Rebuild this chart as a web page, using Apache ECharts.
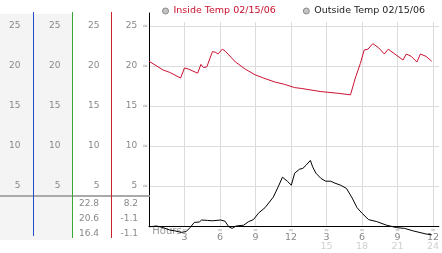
<!DOCTYPE html>
<html><head><meta charset="utf-8">
<script src="https://cdn.jsdelivr.net/npm/echarts@6/dist/echarts.min.js"></script>
<style>html,body{margin:0;padding:0;background:#fff}#c{width:442px;height:253px}</style>
</head><body><div id="c"></div>
<script>
const insideName = 'Inside Temp 02/15/06';
const outsideName = 'Outside Temp 02/15/06';
const insideHours = [0,1.19,1.75,2.67,3.0,3.36,4.11,4.39,4.61,4.89,5.36,5.64,5.83,6.19,6.42,7.31,8.14,8.97,9.67,10.64,11.47,12.31,12.86,14.53,15.92,17.03,17.44,17.86,18.19,18.5,18.92,19.39,19.89,20.22,20.78,21.47,21.75,22.17,22.64,22.94,23.42,23.89];
const insideTemps = [20.6,19.5,19.2,18.5,19.75,19.6,19.1,20.2,19.8,19.9,21.8,21.7,21.5,22.1,21.9,20.5,19.6,18.9,18.5,18.0,17.7,17.3,17.2,16.8,16.6,16.4,18.5,20.3,22.0,22.1,22.8,22.3,21.5,22.1,21.5,20.75,21.5,21.2,20.5,21.5,21.2,20.6];
const outsideHours = [0,0.64,1.19,1.75,2.17,2.72,3.14,3.47,3.83,4.25,4.44,4.94,5.36,6.06,6.42,6.75,7.03,7.36,8.0,8.42,8.83,9.25,9.81,10.5,10.92,11.28,11.69,12.03,12.31,12.72,13.0,13.28,13.64,13.83,14.11,14.53,14.94,15.36,15.64,16.19,16.69,17.17,17.58,18.0,18.56,19.25,20.08,20.92,21.6,22.3,23.42,23.9];
const outsideTemps = [-0.1,0,-0.2,-0.5,-0.6,-0.8,-0.7,-0.2,0.45,0.5,0.75,0.7,0.65,0.75,0.6,-0.1,-0.3,0,0.1,0.55,0.8,1.6,2.3,3.6,4.9,6.1,5.6,5.1,6.6,7.1,7.2,7.6,8.2,7.4,6.6,5.95,5.6,5.6,5.4,5.1,4.7,3.5,2.3,1.6,0.8,0.55,0.1,-0.2,-0.3,-0.6,-1.0,-1.1];
const hourTicks = [3,6,9,12,15,18,21,24];
const clockLabels = ['3','6','9','12','3','6','9','12'];
const dayHourLabels = ['','','','','15','18','21','24'];
const axisTitle = 'Hours';
const yTickValues = [5,10,15,20,25];
const yTickLabels = ['5','10','15','20','25'];

const FONT = 'DejaVu Sans';
function pairs(xs, ys){ return xs.map((x,i)=>[x, ys[i]]); }
function stats(a){ return [Math.max(...a), a[a.length-1], Math.min(...a)].map(v=>v.toFixed(1)); }
function yFmt(withGlyph){
  return function(v){
    const i = yTickValues.indexOf(Math.round(v*1000)/1000);
    if (i < 0) return '';
    return '{a|' + yTickLabels[i] + '}' + (withGlyph ? '{g|≈}' : '');
  };
}
function yRich(){ return { a:{fontFamily:FONT,fontSize:9,color:'#888'}, g:{fontFamily:FONT,fontSize:7,color:'#aaa',padding:[0,0,0,5]} }; }
function sideAxis(gi, min, margin){
  return { type:'value', gridIndex:gi, min:min, max:26.75, interval:0.25,
    axisLine:{show:false}, axisTick:{show:false}, splitLine:{show:false},
    axisLabel:{margin:margin, formatter:yFmt(false), rich:yRich()} };
}
function hiddenX(gi){ return {type:'value', gridIndex:gi, show:false, min:0, max:1}; }
function sideGrid(left, height, color){
  return {left:left, top:12, width:0, height:height, show:true, backgroundColor:'transparent', borderColor:color, borderWidth:1, z:5};
}

const chart = echarts.init(document.getElementById('c'), null, {renderer:'canvas'});
const inS = stats(insideTemps), outS = stats(outsideTemps);
chart.setOption({
  animation:false,
  backgroundColor:'#fff',
  textStyle:{fontFamily:FONT},
  legend:{
    left:157, top:1, icon:'circle', itemWidth:6, itemHeight:6, itemGap:27,
    itemStyle:{color:'#c4c4c4', borderColor:'#8a8a8a', borderWidth:1},
    textStyle:{fontFamily:FONT, fontSize:9.5},
    data:[{name:insideName, textStyle:{color:'#c8102e'}}, {name:outsideName, textStyle:{color:'#222'}}]
  },
  grid:[
    {left:0, top:14, width:72, height:226, show:true, backgroundColor:'#f4f4f4', borderWidth:0},
    {left:0, top:13, width:149, height:183},
    sideGrid(111.5, 226, '#d0202c'),
    sideGrid(72.5, 226, '#3aa835'),
    sideGrid(33.5, 224, '#2050c8'),
    {left:149, top:13, width:1, height:213},
    {left:149, top:22, width:294, height:204}
  ],
  xAxis:[
    hiddenX(0),
    {type:'value', gridIndex:1, min:0, max:1, axisLine:{show:true, lineStyle:{color:'#aaa',width:2}}, axisTick:{show:false}, axisLabel:{show:false}, splitLine:{show:false}},
    hiddenX(2), hiddenX(3), hiddenX(4), hiddenX(5),
    {type:'value', gridIndex:6, min:0, max:24.5, interval:3,
      axisLine:{show:true, onZero:false, lineStyle:{color:'#000',width:1}}, axisTick:{show:false},
      splitLine:{show:true, showMaxLine:false, lineStyle:{color:'#dcdcdc',width:1}},
      axisLabel:{margin:1, showMinLabel:true, formatter:function(v){
        if (v === 0) return '{h|' + axisTitle + '}';
        const i = hourTicks.indexOf(v); if (i<0) return '';
        return '{t|≈}\n{a|' + clockLabels[i] + '}' + (dayHourLabels[i] ? '\n{b|' + dayHourLabels[i] + '}' : '');
      }, rich:{ t:{fontFamily:FONT,fontSize:6,lineHeight:6,color:'#aaa'}, a:{fontFamily:FONT,fontSize:9.5,lineHeight:9,color:'#888'}, b:{fontFamily:FONT,fontSize:9.5,lineHeight:9,color:'#d0d0d0'},
        h:{fontFamily:FONT,fontSize:10,lineHeight:9,color:'#999',padding:[0,0,0,36]} }}
    }
  ],
  yAxis:[
    {type:'value', gridIndex:0, show:false, min:0, max:1},
    {type:'value', gridIndex:1, show:false, min:0, max:1},
    sideAxis(2, -1.5, 12),
    sideAxis(3, -1.5, 12),
    sideAxis(4, -1.25, 13),
    {type:'value', gridIndex:5, min:0, max:1, axisLine:{show:true, lineStyle:{color:'#000'}}, axisTick:{show:false}, axisLabel:{show:false}, splitLine:{show:false}},
    {type:'value', gridIndex:6, min:0, max:25.5, interval:5,
      axisLine:{show:false}, axisTick:{show:false},
      splitLine:{show:true, showMaxLine:false, lineStyle:{color:'#dcdcdc',width:1}},
      axisLabel:{margin:1, formatter:yFmt(true), rich:yRich()}}
  ],
  graphic:[
    {type:'text', x:99, y:196, style:{text:inS.join('\n'), font:'9px "DejaVu Sans"', fill:'#888', textAlign:'right', textVerticalAlign:'top', lineHeight:15}},
    {type:'text', x:138, y:196, style:{text:outS.join('\n'), font:'9px "DejaVu Sans"', fill:'#888', textAlign:'right', textVerticalAlign:'top', lineHeight:15}}
  ],
  series:[
    {name:insideName, type:'line', xAxisIndex:6, yAxisIndex:6, data:pairs(insideHours, insideTemps), showSymbol:false, clip:false,
      lineStyle:{color:'#cc1133', width:1}, itemStyle:{color:'#cc1133'}},
    {name:outsideName, type:'line', xAxisIndex:6, yAxisIndex:6, data:pairs(outsideHours, outsideTemps), showSymbol:false, clip:false,
      lineStyle:{color:'#000', width:1}, itemStyle:{color:'#000'}}
  ]
});
</script></body></html>
